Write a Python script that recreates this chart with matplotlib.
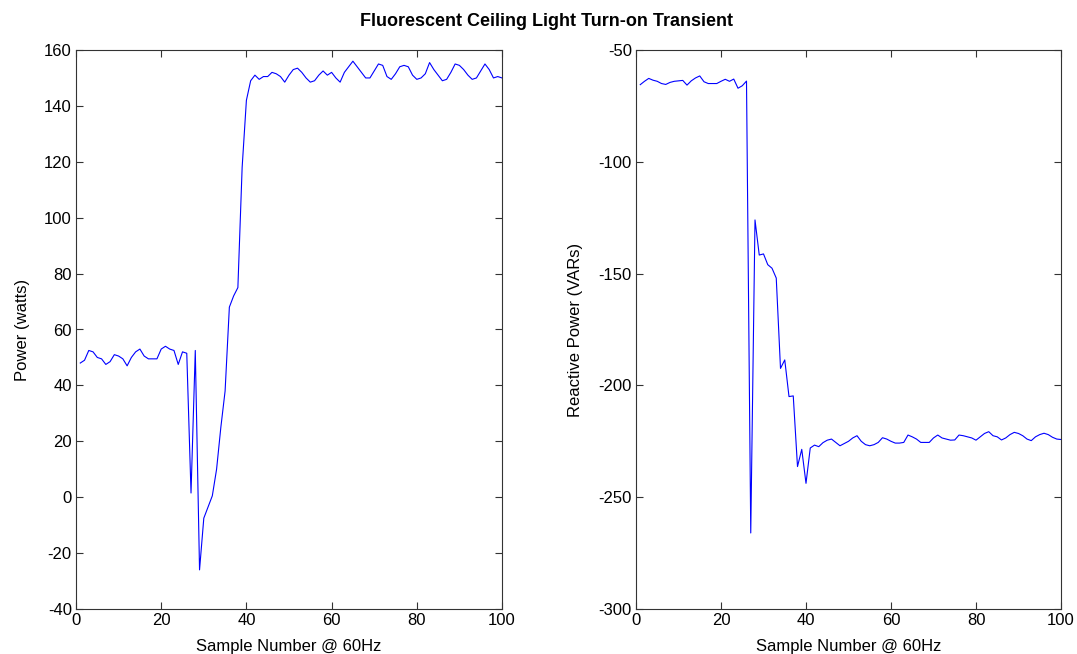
import numpy as np
import matplotlib
matplotlib.use("Agg")
import matplotlib.pyplot as plt

plt.rcParams['font.family'] = ['Liberation Sans', 'DejaVu Sans']
plt.rcParams['axes.unicode_minus'] = False

# sample index @ 60Hz
samples = np.arange(1, 101)

# real power (watts)
power = [48, 49, 52.5, 52, 50, 49.5, 47.5, 48.5, 51, 50.5,
         49.5, 47, 50, 52, 53, 50.5, 49.5, 49.5, 49.5, 53,
         54, 53, 52.5, 47.5, 52, 51.5, 1.5, 52.5, -26, -7.5,
         -3.5, 0.5, 10, 25, 38, 68, 72, 75, 118, 142,
         149, 151, 149.5, 150.5, 150.5, 152, 151.5, 150.5, 148.5, 151,
         153, 153.5, 152, 150, 148.5, 149, 151, 152.5, 151, 152,
         150, 148.5, 152, 154, 156, 154, 152, 150, 150, 152.5,
         155, 154.5, 150.5, 149.5, 151.5, 154, 154.5, 154, 151, 149.5,
         150, 151.5, 155.5, 153, 151, 149, 149.5, 152, 155, 154.5,
         153, 151, 149.5, 150, 152.5, 155, 153, 150, 150.5, 150]

# reactive power (VARs)
reactive = [-65.5, -64, -62.7, -63.5, -64, -65, -65.4, -64.5, -64, -63.8,
            -63.6, -65.7, -63.8, -62.5, -61.6, -64.2, -65, -65, -65, -64,
            -63.1, -64, -63, -67.1, -66, -63.9, -266, -126, -141.7, -141.2,
            -146, -147.6, -152, -192.4, -188.6, -205, -204.7, -236.3, -228.6, -243.8,
            -228, -226.7, -227.4, -225.6, -224.5, -224, -225.5, -227, -226, -225,
            -223.5, -222.5, -225, -226.5, -227, -226.5, -225.5, -223.4, -224, -225,
            -225.8, -225.8, -225.5, -222.2, -223, -224, -225.5, -225.5, -225.5, -223.5,
            -222.2, -223.5, -224, -224.5, -224.4, -222.2, -222.5, -223, -223.5, -224.5,
            -223, -221.5, -220.7, -222.5, -223, -224.4, -223.5, -222, -221, -221.5,
            -222.5, -224, -224.7, -223, -222, -221.4, -222, -223.2, -224, -224.2]

fig = plt.figure(figsize=(10.77, 6.54), dpi=100)
ax1 = fig.add_axes([76/1077, 1 - 609/654, 426/1077, 559/654])
ax2 = fig.add_axes([636/1077, 1 - 609/654, 425/1077, 559/654])

ax1.plot(samples, power, color='blue', linewidth=0.8)
ax1.set_xlim(0, 100)
ax1.set_ylim(-40, 160)
ax1.set_yticks(np.arange(-40, 161, 20))
ax1.set_ylabel("Power (watts)", fontsize=12, labelpad=10)

ax2.plot(samples, reactive, color='blue', linewidth=0.8)
ax2.set_xlim(0, 100)
ax2.set_ylim(-300, -50)
ax2.set_yticks(np.arange(-300, -49, 50))
ax2.set_ylabel("Reactive Power (VARs)", fontsize=12, labelpad=11)

for ax in (ax1, ax2):
    ax.set_xticks(np.arange(0, 101, 20))
    ax.set_xlabel("Sample Number @ 60Hz", fontsize=12, labelpad=8)
    ax.tick_params(direction='in', top=True, right=True, length=5,
                   labelsize=12, width=0.8, color='#333333', pad=3)
    for s in ax.spines.values():
        s.set_color('#333333')
        s.set_linewidth(0.8)

fig.text(0.507, 0.967, "Fluorescent Ceiling Light Turn-on Transient",
         ha='center', va='center', fontsize=13, fontweight='bold')

fig.savefig("out.png", dpi=100)
